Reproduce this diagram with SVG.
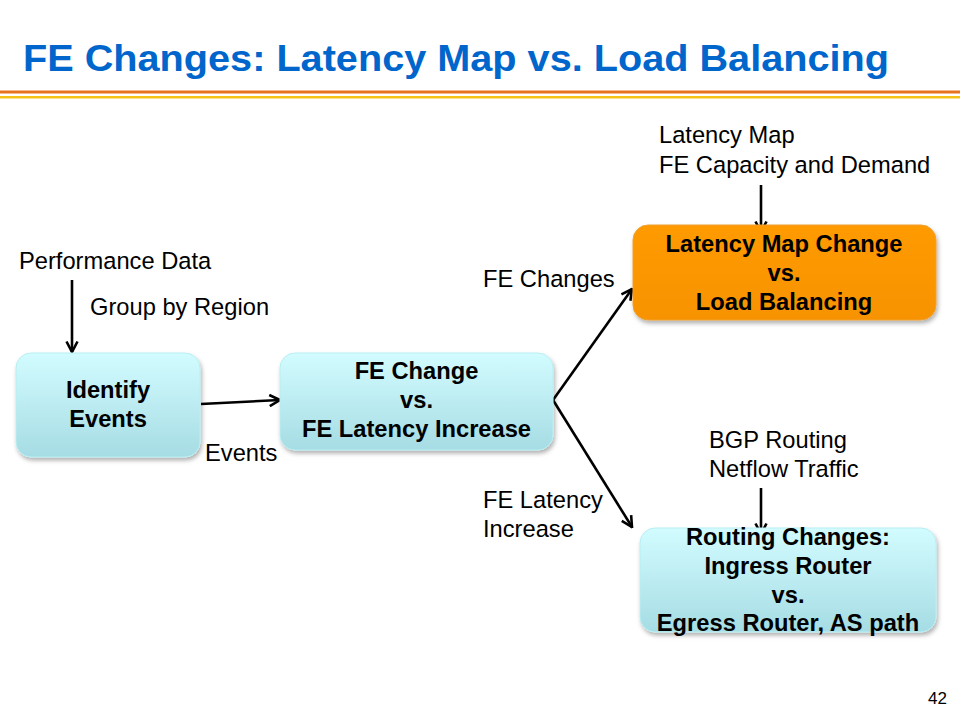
<svg xmlns="http://www.w3.org/2000/svg" width="960" height="720" viewBox="0 0 960 720">
  <defs>
    <linearGradient id="cyanGrad" x1="0" y1="0" x2="0" y2="1">
      <stop offset="0" stop-color="#D2FCFF"/>
      <stop offset="1" stop-color="#A6DCE4"/>
    </linearGradient>
    <linearGradient id="orangeGrad" x1="0" y1="0" x2="0" y2="1">
      <stop offset="0" stop-color="#FF9A05"/>
      <stop offset="1" stop-color="#F79300"/>
    </linearGradient>
    <filter id="shadow" x="-10%" y="-10%" width="125%" height="135%">
      <feDropShadow dx="1.5" dy="3" stdDeviation="2" flood-color="#000000" flood-opacity="0.3"/>
    </filter>
    <marker id="arrow" viewBox="0 0 14 14" refX="12.5" refY="7" markerWidth="14" markerHeight="14" markerUnits="userSpaceOnUse" orient="auto">
      <path d="M2,1.5 L12.5,7 L2,12.5" fill="none" stroke="#000000" stroke-width="2.6" stroke-linejoin="miter"/>
    </marker>
  </defs>
  <style>
    .lbl { font-family: "Liberation Sans", Arial, sans-serif; font-size: 23.7px; fill: #000000; }
    .box-text { font-family: "Liberation Sans", Arial, sans-serif; font-size: 23.7px; font-weight: bold; fill: #000000; text-anchor: middle; }
    .cyan { fill: url(#cyanGrad); stroke: #B8EEF2; stroke-width: 1; filter: url(#shadow); }
    .orange { fill: url(#orangeGrad); stroke: #F0A030; stroke-width: 1; filter: url(#shadow); }
    .conn { stroke: #000000; stroke-width: 2.6; fill: none; marker-end: url(#arrow); }
  </style>

  <rect x="0" y="0" width="960" height="720" fill="#FFFFFF"/>

  <g id="title">
    <text x="23" y="71" font-family="'Liberation Sans', Arial, sans-serif" font-size="36" font-weight="bold" fill="#0066CC" textLength="866" lengthAdjust="spacingAndGlyphs">FE Changes:  Latency Map vs. Load Balancing</text>
    <rect x="0" y="90.5" width="960" height="3" fill="#E8731E"/>
    <rect x="0" y="96" width="960" height="2.5" fill="#F5C316"/>
  </g>

  <g id="connectors">
    <line class="conn" x1="72" y1="280" x2="72" y2="352"/>
    <line class="conn" x1="201" y1="404" x2="280" y2="400"/>
    <line class="conn" x1="553" y1="400" x2="632" y2="289"/>
    <line class="conn" x1="553" y1="400" x2="632" y2="527"/>
    <line class="conn" x1="761" y1="185" x2="761" y2="232"/>
    <line class="conn" x1="761" y1="488" x2="761" y2="534"/>
  </g>

  <g id="node-identify-events">
    <rect class="cyan" x="16" y="353" width="184" height="104" rx="15" ry="15"/>
    <text class="box-text" x="108" y="398">Identify</text>
    <text class="box-text" x="108" y="427">Events</text>
  </g>

  <g id="node-fe-change">
    <rect class="cyan" x="280" y="353" width="273" height="97" rx="15" ry="15"/>
    <text class="box-text" x="416.5" y="379">FE Change</text>
    <text class="box-text" x="416.5" y="408">vs.</text>
    <text class="box-text" x="416.5" y="437">FE Latency Increase</text>
  </g>

  <g id="node-latency-map-change">
    <rect class="orange" x="633" y="225" width="303" height="95" rx="15" ry="15"/>
    <text class="box-text" x="784" y="252">Latency Map Change</text>
    <text class="box-text" x="784" y="281">vs.</text>
    <text class="box-text" x="784" y="310">Load Balancing</text>
  </g>

  <g id="node-routing-changes">
    <rect class="cyan" x="640" y="528" width="296" height="104" rx="15" ry="15"/>
    <text class="box-text" x="788" y="545">Routing Changes:</text>
    <text class="box-text" x="788" y="574">Ingress Router</text>
    <text class="box-text" x="788" y="603">vs.</text>
    <text class="box-text" x="788" y="631">Egress Router, AS path</text>
  </g>

  <g id="labels">
    <text class="lbl" x="19" y="269">Performance Data</text>
    <text class="lbl" x="90" y="315">Group by Region</text>
    <text class="lbl" x="205" y="461">Events</text>
    <text class="lbl" x="483" y="287">FE Changes</text>
    <text class="lbl" x="483" y="508">FE Latency</text>
    <text class="lbl" x="483" y="537">Increase</text>
    <text class="lbl" x="659" y="143">Latency Map</text>
    <text class="lbl" x="659" y="172.5">FE Capacity and Demand</text>
    <text class="lbl" x="709" y="448">BGP Routing</text>
    <text class="lbl" x="709" y="477">Netflow Traffic</text>
  </g>

  <text id="page-number" x="947" y="704" font-family="'Liberation Sans', Arial, sans-serif" font-size="17" fill="#000000" text-anchor="end">42</text>
</svg>
